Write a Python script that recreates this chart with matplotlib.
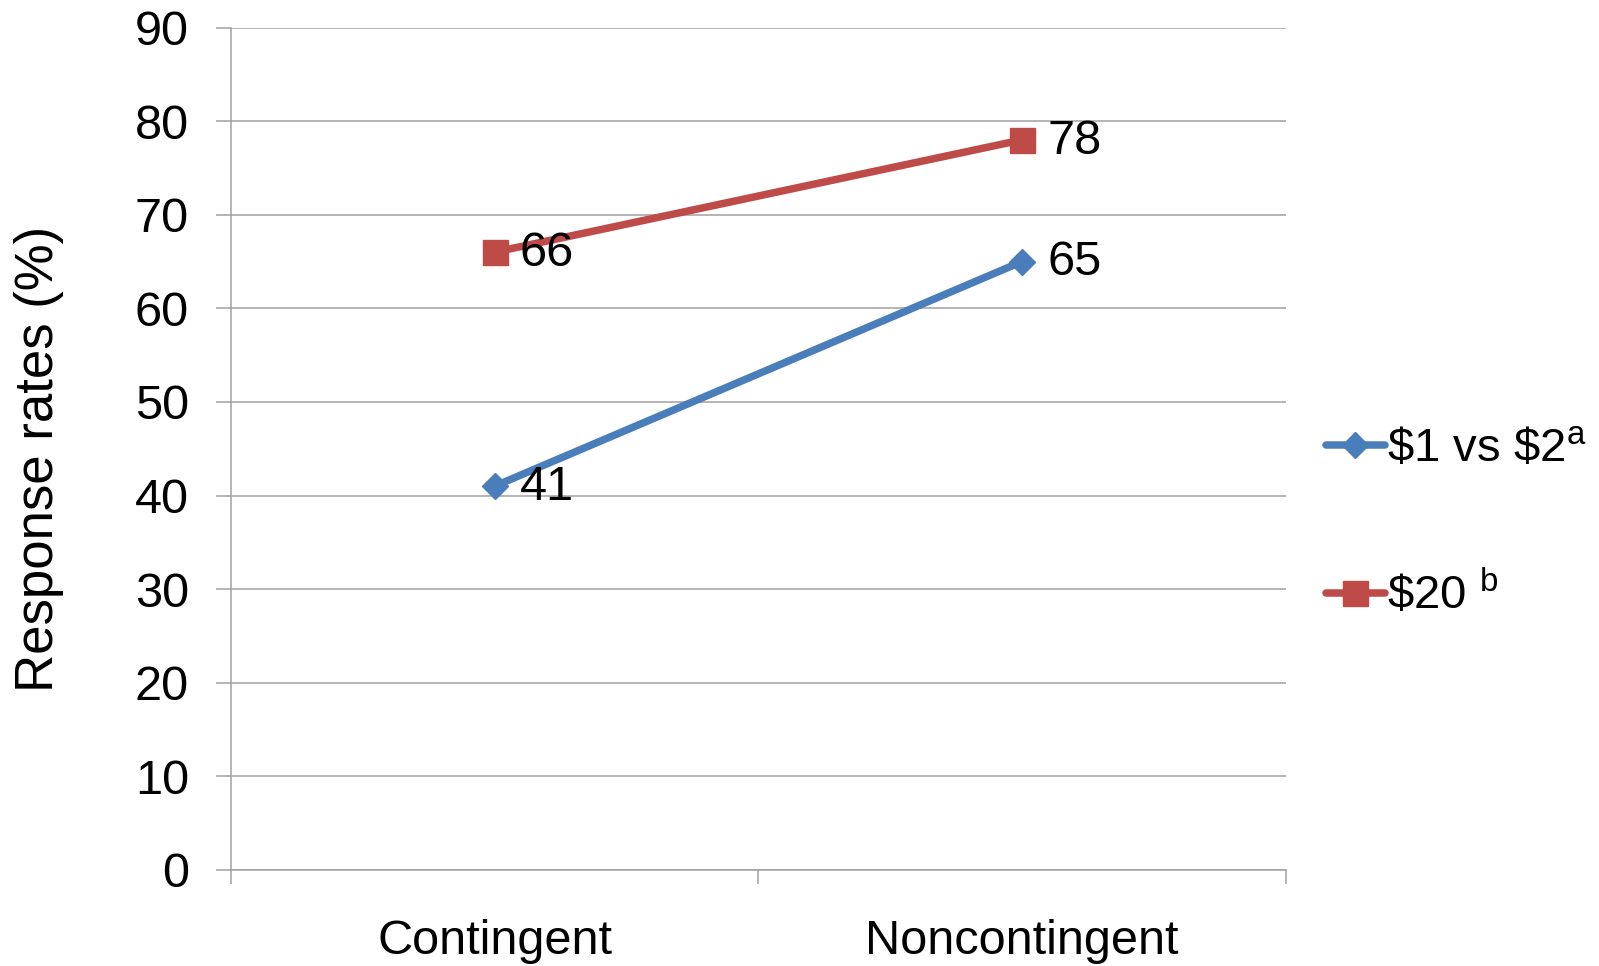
import matplotlib.pyplot as plt
from matplotlib.ticker import FixedLocator

plt.rcParams['font.family'] = ['Liberation Sans', 'DejaVu Sans']
plt.rcParams['mathtext.fontset'] = 'custom'
plt.rcParams['mathtext.rm'] = 'Liberation Sans'
plt.rcParams['mathtext.it'] = 'Liberation Sans'

# response rates by incentive condition
conditions = ['Contingent', 'Noncontingent']
small_cash = [41, 65]
big_cash = [66, 78]
series_names = ['\\$1 vs \\$2$^{\\mathrm{a}}$', '\\$20 $^{\\mathrm{b}}$']

blue = '#4A7EBB'
red = '#BE4B48'
grid_gray = '#A0A0A0'

fig = plt.figure(figsize=(15.99, 9.66), dpi=100)
ax = fig.add_axes([0.1443, 0.0994, 0.8042 - 0.1443, 0.9715 - 0.0994])

x = list(range(len(conditions)))
ax.plot(x, small_cash, color=blue, lw=5.4, marker='D', ms=13, label=series_names[0],
        solid_capstyle='round')
ax.plot(x, big_cash, color=red, lw=5.4, marker='s', ms=18, label=series_names[1],
        solid_capstyle='round')

for xs, ys in [(x, small_cash), (x, big_cash)]:
    for xi, yi in zip(xs, ys):
        ax.annotate(str(yi), (xi, yi), xytext=(18, -1), textcoords='offset points',
                    ha='left', va='center', fontsize=35)

ax.set_xlim(-0.5, 1.5)
ax.set_ylim(0, 90)
ax.set_yticks(range(0, 91, 10))
ax.yaxis.grid(True, color=grid_gray, lw=1.1)
ax.set_axisbelow(True)

# boundary ticks between categories, labels sit at the centres
ax.xaxis.set_major_locator(FixedLocator([-0.5, 0.5, 1.5]))
ax.set_xticklabels([])
ax.xaxis.set_minor_locator(FixedLocator(x))
ax.set_xticklabels(conditions, minor=True)
ax.tick_params(axis='x', which='minor', length=0, pad=35, labelsize=35)
ax.tick_params(axis='x', which='major', length=10, color=grid_gray, width=1.1)
ax.tick_params(axis='y', length=11, color=grid_gray, width=1.1, pad=19, labelsize=35)

for side in ['top', 'right']:
    ax.spines[side].set_visible(False)
for side in ['left', 'bottom']:
    ax.spines[side].set_color(grid_gray)
    ax.spines[side].set_linewidth(1.1)

fig.text(39 / 1599, 1 - 459 / 966, 'Response rates (%)', rotation=90,
         ha='center', va='center', fontsize=38)

fig.legend(loc='center left', bbox_to_anchor=(0.829, 0.458), frameon=False,
           fontsize=34, handlelength=1.25, handletextpad=0.05, labelspacing=2.09,
           borderpad=0, borderaxespad=0)

fig.savefig('out.png', dpi=100)
